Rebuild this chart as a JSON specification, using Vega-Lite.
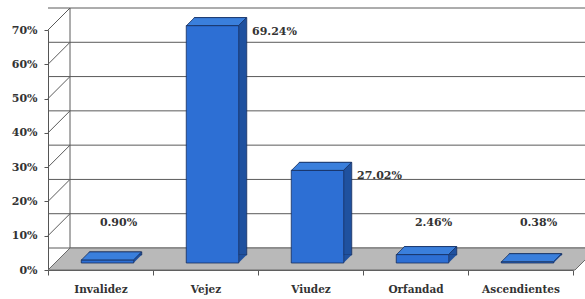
{
  "$schema": "https://vega.github.io/schema/vega-lite/v6.json",
  "width": 525,
  "height": 240,
  "autosize": {"type": "none"},
  "padding": {"left": 48, "top": 30, "right": 12, "bottom": 29},
  "background": "white",
  "config": {
    "view": {"stroke": null},
    "font": "DejaVu Serif",
    "axisY": {
      "grid": false, "title": null, "labelOverlap": false, "format": ".0%",
      "domainColor": "#555", "tickColor": "#555", "tickSize": 4,
      "labelFont": "DejaVu Serif", "labelFontWeight": "bold", "labelFontSize": 11,
      "labelColor": "#333", "labelPadding": 7
    }
  },
  "datasets": {
    "bars": [
      {"cat": "Invalidez", "value": 0.009},
      {"cat": "Vejez", "value": 0.6924},
      {"cat": "Viudez", "value": 0.2702},
      {"cat": "Orfandad", "value": 0.0246},
      {"cat": "Ascendientes", "value": 0.0038}
    ],
    "ticks": [
      {"v": 0}, {"v": 0.1}, {"v": 0.2}, {"v": 0.3}, {"v": 0.4}, {"v": 0.5}, {"v": 0.6}, {"v": 0.7}
    ]
  },
  "layer": [
    {
      "data": {"name": "ticks"},
      "mark": {"type": "rule", "color": "#5a5a5a", "strokeWidth": 1, "xOffset": 22, "x2Offset": 22, "yOffset": -22, "y2Offset": -22},
      "encoding": {
        "y": {
          "field": "v", "type": "quantitative",
          "scale": {"domain": [0, 0.7], "nice": false, "zero": true},
          "axis": {"values": [0, 0.1, 0.2, 0.3, 0.4, 0.5, 0.6, 0.7]}
        }
      }
    },
    {
      "data": {"name": "ticks"},
      "mark": {"type": "point", "shape": "M -262.5 0 L -240.5 -22", "size": 4, "filled": false, "stroke": "#5a5a5a", "strokeWidth": 1, "opacity": 1},
      "encoding": {"y": {"field": "v", "type": "quantitative", "axis": {"values": [0, 0.1, 0.2, 0.3, 0.4, 0.5, 0.6, 0.7]}}}
    },
    {
      "data": {"values": [{"v": 0}]},
      "mark": {"type": "point", "shape": "M -240.5 -22 L -240.5 -262", "size": 4, "filled": false, "stroke": "#5a5a5a", "strokeWidth": 1, "opacity": 1},
      "encoding": {"y": {"field": "v", "type": "quantitative", "axis": {"values": [0, 0.1, 0.2, 0.3, 0.4, 0.5, 0.6, 0.7]}}}
    },
    {
      "data": {"values": [{"v": 0}]},
      "mark": {"type": "point", "shape": "M -262.5 0 L 264.5 0 L 286.5 -22 L -240.5 -22 Z", "size": 4, "filled": true, "fill": "#b9b9b9", "stroke": "#6a6a6a", "strokeWidth": 1, "opacity": 1},
      "encoding": {"y": {"field": "v", "type": "quantitative", "axis": {"values": [0, 0.1, 0.2, 0.3, 0.4, 0.5, 0.6, 0.7]}}}
    },
    {
      "data": {"name": "bars"},
      "mark": {"type": "bar", "width": {"band": 0.5}, "color": "#1f519f", "stroke": "#172e5e", "strokeWidth": 0.8, "xOffset": 15, "x2Offset": 15, "yOffset": -15, "y2Offset": -15},
      "encoding": {
        "x": {
          "field": "cat", "type": "nominal", "sort": null,
          "scale": {"paddingInner": 0, "paddingOuter": 0},
          "axis": {
            "title": null, "labelAngle": 0, "tickBand": "extent",
            "domainColor": "#555", "tickColor": "#555", "tickSize": 5,
            "labelFont": "DejaVu Serif", "labelFontWeight": "bold", "labelFontSize": 10.5,
            "labelColor": "#333", "labelPadding": 9
          }
        },
        "y": {"field": "value", "type": "quantitative", "axis": {"values": [0, 0.1, 0.2, 0.3, 0.4, 0.5, 0.6, 0.7]}}
      }
    },
    {
      "data": {"name": "bars"},
      "mark": {"type": "point", "shape": "M 26 0 L 34 -8 L 26 -8 Z", "size": 4, "filled": true, "fill": "#1f519f", "strokeWidth": 0, "opacity": 1, "xOffset": 7, "yOffset": -7},
      "encoding": {
        "x": {"field": "cat", "type": "nominal", "sort": null},
        "y": {"datum": 0, "type": "quantitative", "axis": {"values": [0, 0.1, 0.2, 0.3, 0.4, 0.5, 0.6, 0.7]}}
      }
    },
    {
      "data": {"name": "bars"},
      "mark": {"type": "bar", "width": {"band": 0.5}, "color": "#2d6fd4", "stroke": "#172e5e", "strokeWidth": 0.8, "xOffset": 7, "x2Offset": 7, "yOffset": -7, "y2Offset": -7},
      "encoding": {
        "x": {"field": "cat", "type": "nominal", "sort": null},
        "y": {"field": "value", "type": "quantitative", "axis": {"values": [0, 0.1, 0.2, 0.3, 0.4, 0.5, 0.6, 0.7]}}
      }
    },
    {
      "data": {"name": "bars"},
      "mark": {"type": "point", "shape": "M -26 0 L 26 0 L 34 -8 L -18 -8 Z", "size": 4, "filled": true, "fill": "#3a7fdc", "stroke": "#172e5e", "strokeWidth": 0.8, "opacity": 1, "xOffset": 7, "yOffset": -7},
      "encoding": {
        "x": {"field": "cat", "type": "nominal", "sort": null},
        "y": {"field": "value", "type": "quantitative", "axis": {"values": [0, 0.1, 0.2, 0.3, 0.4, 0.5, 0.6, 0.7]}}
      }
    },
    {
      "data": {"name": "bars"},
      "transform": [{"filter": "datum.value >= 0.1"}],
      "mark": {"type": "text", "font": "DejaVu Serif", "fontWeight": "bold", "fontSize": 11, "color": "#333", "dx": 69, "dy": -1, "baseline": "middle"},
      "encoding": {
        "x": {"field": "cat", "type": "nominal", "sort": null},
        "y": {"field": "value", "type": "quantitative", "axis": {"values": [0, 0.1, 0.2, 0.3, 0.4, 0.5, 0.6, 0.7]}},
        "text": {"field": "value", "type": "quantitative", "format": ".2%"}
      }
    },
    {
      "data": {"name": "bars"},
      "transform": [{"filter": "datum.value < 0.1"}],
      "mark": {"type": "text", "font": "DejaVu Serif", "fontWeight": "bold", "fontSize": 11, "color": "#333", "dx": 18, "dy": -47, "baseline": "middle"},
      "encoding": {
        "x": {"field": "cat", "type": "nominal", "sort": null},
        "y": {"datum": 0, "type": "quantitative", "axis": {"values": [0, 0.1, 0.2, 0.3, 0.4, 0.5, 0.6, 0.7]}},
        "text": {"field": "value", "type": "quantitative", "format": ".2%"}
      }
    }
  ]
}
